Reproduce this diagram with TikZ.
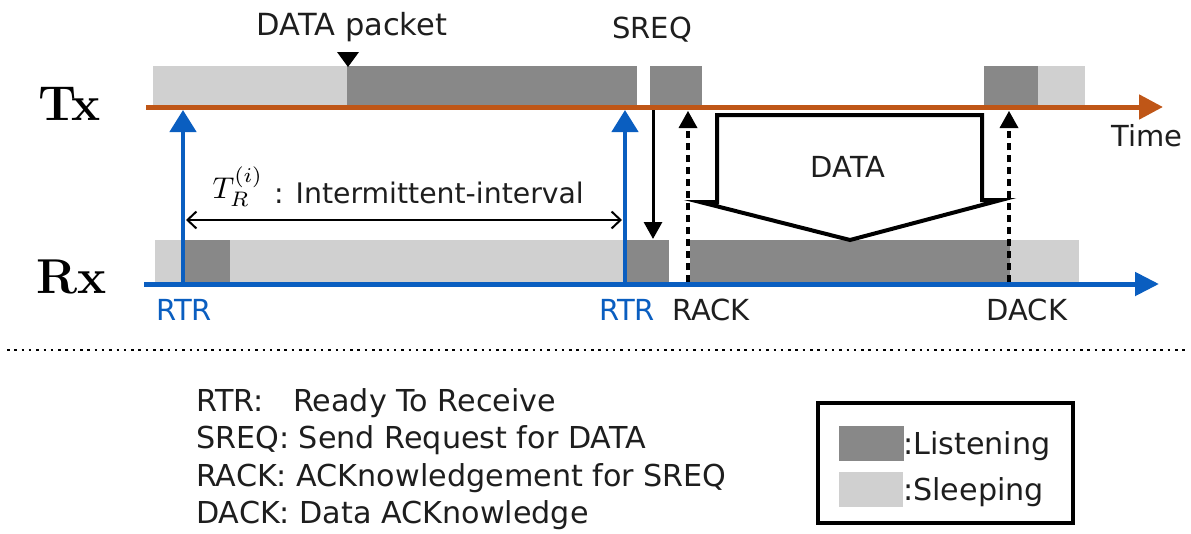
\documentclass[tikz,border=0pt]{standalone}
\usepackage{fontspec}
\newfontfamily\dv{DejaVu Sans}
\usetikzlibrary{arrows.meta,calc}
\definecolor{txc}{RGB}{191,86,23}
\definecolor{rxc}{RGB}{10,94,192}
\definecolor{listen}{RGB}{136,136,136}
\definecolor{sleep}{RGB}{208,208,208}
\definecolor{ink}{RGB}{30,30,30}
\begin{document}
\begin{tikzpicture}[x=1pt,y=-1pt,
  lbl/.style={font=\dv\fontsize{29}{34}\selectfont, text=ink, inner sep=0pt},
  leg/.style={font=\dv\fontsize{30.2}{36}\selectfont, text=ink, inner sep=0pt, anchor=base west},
  axlbl/.style={font=\fontsize{49}{56}\selectfont\bfseries, inner sep=0pt, anchor=base west},
  listenbar/.style={fill=listen},
  sleepbar/.style={fill=sleep},
  axis/.style={line width=5pt},
  rtrarrow/.style={rxc, line width=4.5pt, -{Triangle[length=22pt,width=26pt]}},
  sigarrow/.style={black, line width=3pt, -{Triangle[length=17pt,width=18pt]}},
  ackarrow/.style={black, line width=3.5pt, dash pattern=on 7pt off 5pt, -{Triangle[length=17pt,width=19pt,line width=0pt]}},
]
\useasboundingbox (0,0) rectangle (1191,533);

% Tx bars
\fill[sleepbar] (153,66) rectangle (347,105);
\fill[listenbar] (347,66) rectangle (637,105);
\fill[listenbar] (650,66) rectangle (702,105);
\fill[listenbar] (984,66) rectangle (1038,105);
\fill[sleepbar] (1038,66) rectangle (1085,105);

% Rx bars
\fill[sleepbar] (155,240) rectangle (183,282);
\fill[listenbar] (183,240) rectangle (230,282);
\fill[sleepbar] (230,240) rectangle (627,282);
\fill[listenbar] (627,240) rectangle (669,282);
\fill[listenbar] (690,240) rectangle (1010,282);
\fill[sleepbar] (1010,240) rectangle (1079,282);

% axes
\coordinate (txs) at (146,107);
\coordinate (txe) at (1163,107);
\coordinate (rxs) at (144,284);
\coordinate (rxe) at (1159,284);
\draw[axis, txc, -{Triangle[length=24pt,width=24pt]}] (txs) -- (txe);
\draw[axis, rxc, -{Triangle[length=24pt,width=23pt]}] (rxs) -- (rxe);

% axis labels
\node[axlbl] (tx) at (38,120) {Tx};
\node[axlbl] (rx) at (36,293) {Rx};
\node[lbl, anchor=base] (time) at (1147,146) {Time};

% packet marker
\node[lbl, anchor=base, font=\dv\fontsize{30.5}{36}\selectfont] (pkt) at (352,35) {DATA packet};
\fill[black] (337,52) -- (359,52) -- (348,67) -- cycle;
\node[lbl, anchor=base] (sreq) at (652,38) {SREQ};

% RTR arrows
\coordinate (rtr1b) at (183,282);
\coordinate (rtr1t) at (183,110);
\coordinate (rtr2b) at (625,282);
\coordinate (rtr2t) at (625,110);
\draw[rtrarrow] (rtr1b) -- (rtr1t);
\draw[rtrarrow] (rtr2b) -- (rtr2t);

% interval
\coordinate (ivl) at (186,220);
\coordinate (ivr) at (622,220);
\draw[line width=2pt, {Straight Barb[length=9pt,width=17pt]}-{Straight Barb[length=9pt,width=17pt]}] (ivl) -- (ivr);
\node[inner sep=0pt, anchor=base west, scale=3.0] (tr) at (212,198) {$T_R^{(i)}$};
\node[lbl, anchor=base west, font=\dv\fontsize{28.3}{34}\selectfont] (ivtext) at (274,203) {: Intermittent-interval};

% SREQ
\coordinate (sreqt) at (653,110);
\coordinate (sreqb) at (653,239);
\draw[sigarrow] (sreqt) -- (sreqb);

% RACK, DACK
\coordinate (rackb) at (688,282);
\coordinate (rackt) at (688,111);
\coordinate (dackb) at (1009,282);
\coordinate (dackt) at (1009,111);
\draw[ackarrow] (rackb) -- (rackt);
\draw[ackarrow] (dackb) -- (dackt);

% DATA shape
\draw[line width=4pt, line join=miter] (717,115) -- (982,115) -- (982,200) -- (1001,200) -- (850,240) -- (700,202) -- (717,202) -- cycle;
\node[lbl] (data) at (848,167) {DATA};

% bottom labels
\node[lbl, anchor=base, text=rxc] (rtr1) at (184,320) {RTR};
\node[lbl, anchor=base, text=rxc] (rtr2) at (627,320) {RTR};
\node[lbl, anchor=base] (rack) at (711,320) {RACK};
\node[lbl, anchor=base] (dack) at (1027,320) {DACK};

% separator
\coordinate (sepl) at (7,350);
\coordinate (sepr) at (1188,350);
\draw[line width=2.5pt, dash pattern=on 2.5pt off 4.8pt] (sepl) -- (sepr);

% legend text
\node[leg] (l1a) at (196,411) {RTR:};
\node[leg] (l1b) at (293,411) {Ready To Receive};
\node[leg] (l2) at (196,448.5) {SREQ: Send Request for DATA};
\node[leg] (l3) at (196,486) {RACK: ACKnowledgement for SREQ};
\node[leg] (l4) at (196,523) {DACK: Data ACKnowledge};

% legend box
\draw[line width=4pt] (818,403) rectangle (1073,523);
\fill[listenbar] (839,426) rectangle (904,461);
\fill[sleepbar] (839,472) rectangle (903,507);
\node[leg] (lk1) at (903,454) {:Listening};
\node[leg] (lk2) at (903,500) {:Sleeping};
\end{tikzpicture}
\end{document}
